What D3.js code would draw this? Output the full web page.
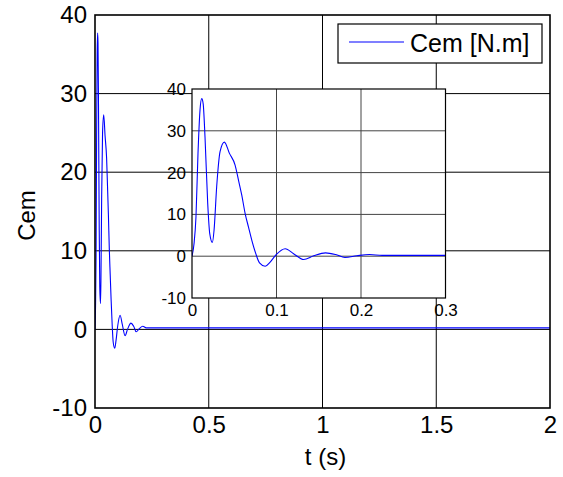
<!DOCTYPE html>
<html>
<head>
<meta charset="utf-8">
<script src="https://cdn.jsdelivr.net/npm/d3@7/dist/d3.min.js"></script>
<style>
  html, body { margin: 0; padding: 0; background: #fff; }
  svg { display: block; font-family: "Liberation Sans", Arial, Helvetica, sans-serif; }
</style>
</head>
<body>
<svg id="chart" width="563" height="477"></svg>
<script>
// Electromagnetic torque response (time in s, torque in N.m)
const timeS = [0, 0.0024, 0.0047, 0.0071, 0.0095, 0.0115, 0.0132, 0.0154, 0.0186, 0.021, 0.0241,
  0.0261, 0.0292, 0.0332, 0.0383, 0.0443, 0.051, 0.055, 0.0589, 0.0629, 0.0668, 0.0708, 0.0755,
  0.0799, 0.0866, 0.0925, 0.0996, 0.1103, 0.1202, 0.1321, 0.144, 0.158, 0.17, 0.181, 0.195,
  0.21, 0.225, 0.25, 0.5, 1, 1.5, 2];
const torque = [0, 3, 9.4, 24.6, 35, 37.7, 36.5, 28.5, 12.6, 5.4, 3.3,
  6.2, 16.6, 25, 27.3, 24.6, 21.8, 18.2, 14.6, 10.2, 7, 3.8, 0.6,
  -1.6, -2.4, -1.4, 0.4, 1.8, 0.6, -0.8, 0.1, 0.8, 0.4, -0.3, 0.1,
  0.4, 0.2, 0.2, 0.2, 0.2, 0.2, 0.2];

const mainXTicks = [0, 0.5, 1, 1.5, 2];
const mainYTicks = [-10, 0, 10, 20, 30, 40];
const insetXTicks = [0, 0.1, 0.2, 0.3];
const insetYTicks = [-10, 0, 10, 20, 30, 40];
const seriesName = "Cem [N.m]";
const xTitle = "t (s)";
const yTitle = "Cem";

const data = timeS.map((t, i) => ({ t, v: torque[i] }));
const svg = d3.select("#chart");
const plain = d => String(d);  // ASCII hyphen for negatives

function drawAxes(g, x, y, xTicks, yTicks, opts) {
  const [x0, x1] = x.range();
  const [y0, y1] = y.range();
  g.append("rect").attr("x", x0).attr("y", y1).attr("width", x1 - x0).attr("height", y0 - y1)
    .attr("fill", "#fff");

  // grid
  g.append("g").selectAll("line").data(xTicks.slice(1, -1)).join("line")
    .attr("x1", d => x(d)).attr("x2", d => x(d)).attr("y1", y0).attr("y2", y1)
    .attr("stroke", opts.grid).attr("stroke-width", 1);
  g.append("g").selectAll("line").data(yTicks.slice(1, -1)).join("line")
    .attr("x1", x0).attr("x2", x1).attr("y1", d => y(d)).attr("y2", d => y(d))
    .attr("stroke", opts.grid).attr("stroke-width", 1);

  // curve, clipped to the axes box
  const clipId = "clip-" + opts.id;
  g.append("clipPath").attr("id", clipId).append("rect")
    .attr("x", x0).attr("y", y1).attr("width", x1 - x0).attr("height", y0 - y1);
  g.append("path").datum(data)
    .attr("clip-path", `url(#${clipId})`)
    .attr("fill", "none").attr("stroke", "#0000ff").attr("stroke-width", opts.lw)
    .attr("stroke-linejoin", "round")
    .attr("d", d3.line().x(d => x(d.t)).y(d => y(d.v)).curve(d3.curveMonotoneX));

  // frame
  g.append("rect").attr("x", x0).attr("y", y1).attr("width", x1 - x0).attr("height", y0 - y1)
    .attr("fill", "none").attr("stroke", "#000").attr("stroke-width", opts.frame);

  // tick labels via axes
  const ax = g.append("g").attr("transform", `translate(0,${y0})`)
    .call(d3.axisBottom(x).tickValues(xTicks).tickSize(0).tickPadding(opts.xPad).tickFormat(plain));
  const ay = g.append("g").attr("transform", `translate(${x0},0)`)
    .call(d3.axisLeft(y).tickValues(yTicks).tickSize(0).tickPadding(opts.yPad).tickFormat(plain));
  [ax, ay].forEach(a => {
    a.select(".domain").remove();
    a.selectAll("text").attr("font-size", opts.fs).attr("fill", "#000")
      .attr("font-family", "Liberation Sans, Arial, sans-serif");
  });
}

// main axes
const x = d3.scaleLinear().domain([0, 2]).range([95, 550]);
const y = d3.scaleLinear().domain([-10, 40]).range([408, 15]);
const gMain = svg.append("g");
drawAxes(gMain, x, y, mainXTicks, mainYTicks, { id: "main", grid: "#000", lw: 1.1, frame: 1.6, fs: 24, xPad: 8, yPad: 8 });

svg.append("text").attr("x", (x(0) + x(2)) / 2 + 3).attr("y", 465).attr("text-anchor", "middle")
  .attr("font-size", 24).text(xTitle);
svg.append("text").attr("transform", `translate(35,${(y(-10) + y(40)) / 2 + 4}) rotate(-90)`)
  .attr("text-anchor", "middle").attr("font-size", 24).text(yTitle);

// legend
const lg = svg.append("g");
lg.append("rect").attr("x", 338).attr("y", 24).attr("width", 204).attr("height", 39)
  .attr("fill", "#fff").attr("stroke", "#000").attr("stroke-width", 1.2);
lg.append("line").attr("x1", 349).attr("x2", 404).attr("y1", 42).attr("y2", 42)
  .attr("stroke", "#0000ff").attr("stroke-width", 1.1);
lg.append("text").attr("x", 410).attr("y", 52).attr("font-size", 25).text(seriesName);

// inset zoom on the transient
const xi = d3.scaleLinear().domain([0, 0.3]).range([192, 445.5]);
const yi = d3.scaleLinear().domain([-10, 40]).range([298, 89]);
const gInset = svg.append("g");
drawAxes(gInset, xi, yi, insetXTicks, insetYTicks, { id: "inset", grid: "#444", lw: 1.1, frame: 1.2, fs: 17, xPad: 6, yPad: 6 });
</script>
</body>
</html>
